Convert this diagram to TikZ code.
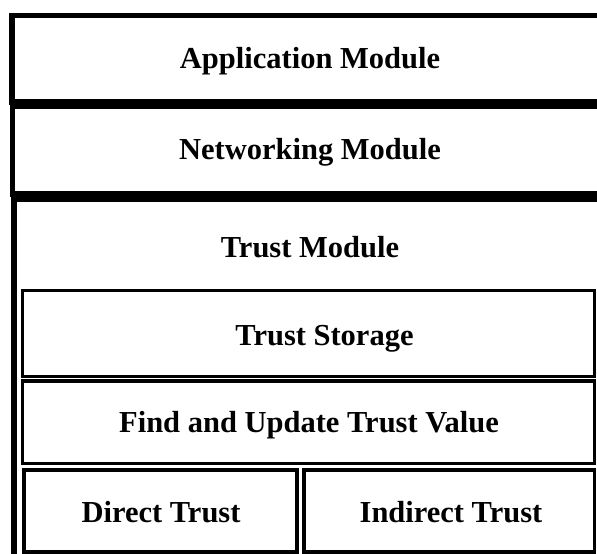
\documentclass[tikz,border=0pt]{standalone}
\usepackage{fontspec}
\setmainfont{Liberation Serif}
\usepackage{tikz}
\usetikzlibrary{positioning}

\begin{document}
\begin{tikzpicture}[
    x=1pt, y=-1pt,
    layer/.style={draw=black, line width=5.5pt},
    part/.style={draw=black, line width=3.5pt},
    title/.style={anchor=base, inner sep=0pt, font=\fontsize{30.5}{36}\selectfont\bfseries}
]
\useasboundingbox (0,0) rectangle (597,554);
\clip (0,0) rectangle (597,554);
% outer modules
\draw[layer] (12,15.5) rectangle (620,102);
\draw[layer] (12.5,106.5) rectangle (620,194);
\draw[layer] (14,199.5) rectangle (620,580);
% parts of the trust module
\draw[part] (22.5,290.5) rectangle (594.5,376.5);
\draw[part] (22.5,381) rectangle (594.5,463.5);
\draw[part] (24,470) rectangle (297,552);
\draw[part] (304,470) rectangle (594.5,552);
% labels
\node[title] (app) at (310,68) {Application Module};
\node[title] (net) at (310,159) {Networking Module};
\node[title] (trust) at (310,257) {Trust Module};
\node[title] (storage) at (324.5,345) {Trust Storage};
\node[title] (update) at (309,432) {Find and Update Trust Value};
\node[title] (direct) at (161,522) {Direct Trust};
\node[title] (indirect) at (451,522) {Indirect Trust};
\end{tikzpicture}
\end{document}
